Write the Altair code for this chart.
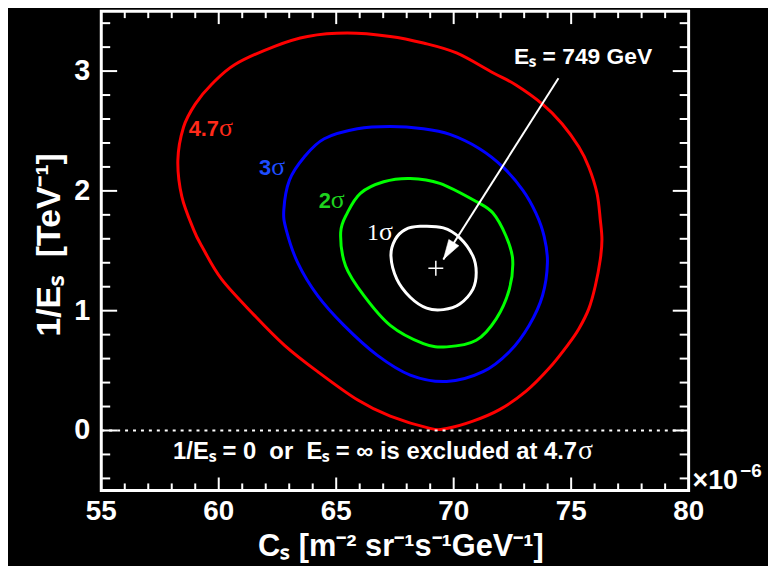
import altair as alt
import pandas as pd

# ---------------- data (data units) ----------------
red_x = [65.47, 67.30, 68.71, 70.12, 71.67, 72.65, 73.78, 74.62, 75.33, 75.75,
         76.10, 76.24, 76.31, 76.24, 76.03, 75.75, 75.33, 74.90, 74.06, 73.07,
         71.95, 70.82, 69.70, 68.99, 67.30, 65.90, 64.21, 62.80, 61.53, 60.12,
         59.28, 58.93, 58.43, 58.26, 58.50, 59.00, 59.70, 60.69, 62.38, 63.78]
red_y = [3.317, 3.289, 3.234, 3.151, 2.986, 2.884, 2.724, 2.559, 2.366, 2.200,
         1.980, 1.759, 1.594, 1.428, 1.208, 1.015, 0.849, 0.725, 0.519, 0.326,
         0.174, 0.078, 0.017, 0.018, 0.119, 0.256, 0.491, 0.711, 0.959, 1.263,
         1.538, 1.677, 1.952, 2.255, 2.531, 2.724, 2.890, 3.055, 3.207, 3.289]

blue_x = [67.30, 68.71, 69.84, 71.10, 72.09, 72.94, 73.50, 73.85, 73.99, 73.78,
          73.21, 72.37, 71.25, 69.70, 68.15, 66.74, 65.33, 64.21, 63.36, 62.87,
          62.77, 63.01, 63.64, 64.49, 65.90]
blue_y = [2.537, 2.518, 2.471, 2.352, 2.200, 2.007, 1.815, 1.621, 1.401, 1.125,
          0.877, 0.657, 0.491, 0.409, 0.463, 0.629, 0.877, 1.125, 1.401, 1.677,
          1.842, 2.090, 2.283, 2.435, 2.518]

green_x = [68.15, 69.41, 70.96, 71.67, 72.23, 72.51, 72.37, 71.81, 70.96, 69.70,
           68.71, 67.30, 66.18, 65.40, 65.19, 65.47, 66.03, 67.02]
green_y = [2.104, 2.063, 1.911, 1.815, 1.621, 1.428, 1.180, 0.932, 0.753, 0.698,
           0.725, 0.877, 1.125, 1.373, 1.652, 1.815, 1.980, 2.076]

white_x = [68.57, 69.56, 70.26, 70.82, 70.96, 70.82, 70.26, 69.56, 68.85, 68.15,
           67.58, 67.33, 67.51, 67.94]
white_y = [1.704, 1.691, 1.608, 1.456, 1.318, 1.180, 1.056, 1.009, 1.021, 1.112,
           1.263, 1.456, 1.594, 1.677]

levels = ["4.7", "3", "2", "1"]
line_colors = ["#ff0000", "#0000ff", "#00ff00", "#ffffff"]
text_colors = ["#ff2a1a", "#1e4dff", "#1ed21e", "#ffffff"]
label_x = [60.01, 62.23, 64.77, 66.82]
label_y = [2.456, 2.131, 1.856, 1.594]

best_fit = {"x": [69.24], "y": [1.354]}
arrow = {"x1": [74.46], "y1": [2.940], "x2": [69.56], "y2": [1.428]}
es_label = {"x": [72.57], "y": [3.058], "t": ["Eₛ = 749 GeV"]}
excl_label = {"x": [75.25], "y": [-0.242]}

x_ticks = [55, 60, 65, 70, 75, 80]
y_ticks = [0, 1, 2, 3]
x_major = [60, 65, 70, 75]
x_minor = [56, 57, 58, 59, 61, 62, 63, 64, 66, 67, 68, 69, 71, 72, 73, 74, 76, 77, 78, 79]
y_major = [0, 1, 2, 3]
y_minor = [-0.4, -0.2, 0.2, 0.4, 0.6, 0.8, 1.2, 1.4, 1.6, 1.8, 2.2, 2.4, 2.6, 2.8,
           3.2, 3.4]

x_title = "Cₛ [m⁻² sr⁻¹s⁻¹GeV⁻¹]"
y_title = "1/Eₛ\u00a0 [TeV⁻¹]"

# ---------------- styling ----------------
W, H = 592, 483
PAD = {"left": 94, "top": 1, "right": 80, "bottom": 74}
FONT = "Liberation Sans"
SERIF = "Liberation Serif"
XDOM = [55, 80]
YDOM = [-0.5, 3.5]


def X(field):
    return alt.X(field, type="quantitative",
                 scale=alt.Scale(domain=XDOM, nice=False, zero=False), axis=None)


def Y(field):
    return alt.Y(field, type="quantitative",
                 scale=alt.Scale(domain=YDOM, nice=False, zero=False), axis=None)


# black backdrop over the whole canvas
backdrop = alt.Chart(pd.DataFrame({"k": [0]})).mark_rect(color="black").encode(
    x=alt.value(-PAD["left"]), x2=alt.value(W + PAD["right"]),
    y=alt.value(-PAD["top"]), y2=alt.value(H + PAD["bottom"]))

rows = []
for lev, xs, ys in zip(levels, [red_x, blue_x, green_x, white_x],
                       [red_y, blue_y, green_y, white_y]):
    for i, (a, b) in enumerate(zip(xs, ys)):
        rows.append({"x": a, "y": b, "level": lev, "i": i})
cdf = pd.DataFrame(rows)

contours = alt.Chart(cdf).mark_line(interpolate="cardinal-closed", strokeWidth=3).encode(
    x=X("x"), y=Y("y"),
    color=alt.Color("level:N", scale=alt.Scale(domain=levels, range=line_colors), legend=None),
    detail="level:N", order="i:Q")

zero_line = alt.Chart(pd.DataFrame({"x": [55], "x2": [80], "y": [0]})).mark_rule(
    color="white", strokeWidth=2, strokeDash=[3, 5]).encode(x=X("x"), x2="x2", y=Y("y"))

frame = alt.Chart(pd.DataFrame({"x": [55], "x2": [80], "y": [-0.5], "y2": [3.5]})).mark_rect(
    filled=False, stroke="white", strokeWidth=3).encode(x=X("x"), x2="x2", y=Y("y"), y2="y2")

tick_layers = []
for vals, length in [(x_minor, 7), (x_major, 13)]:
    d = pd.DataFrame({"v": vals})
    tick_layers.append(alt.Chart(d).mark_rule(color="white", strokeWidth=2).encode(
        x=X("v"), y=alt.value(H), y2=alt.value(H - length)))
    tick_layers.append(alt.Chart(d).mark_rule(color="white", strokeWidth=2).encode(
        x=X("v"), y=alt.value(0), y2=alt.value(length)))
for vals, length in [(y_minor, 9), (y_major, 16)]:
    d = pd.DataFrame({"v": vals})
    tick_layers.append(alt.Chart(d).mark_rule(color="white", strokeWidth=2).encode(
        y=Y("v"), x=alt.value(0), x2=alt.value(length)))
    tick_layers.append(alt.Chart(d).mark_rule(color="white", strokeWidth=2).encode(
        y=Y("v"), x=alt.value(W), x2=alt.value(W - length)))

# tick labels
xlab = alt.Chart(pd.DataFrame({"v": x_ticks, "y": [YDOM[0]] * len(x_ticks)})).mark_text(
    align="center", baseline="top", dy=8, font=FONT, fontSize=28, fontWeight="bold",
    color="white").encode(x=X("v"), y=Y("y"), text=alt.Text("v:Q", format="d"))
ylab = alt.Chart(pd.DataFrame({"v": y_ticks, "x": [XDOM[0]] * len(y_ticks)})).mark_text(
    align="right", baseline="middle", dx=-11, font=FONT, fontSize=29, fontWeight="bold",
    color="white").encode(x=X("x"), y=Y("v"), text=alt.Text("v:Q", format="d"))

# axis titles
xtitle = alt.Chart(pd.DataFrame({"t": [x_title]})).mark_text(
    align="center", baseline="alphabetic", font=FONT, fontSize=31, fontWeight="bold",
    color="white").encode(x=alt.value(W / 2 + 6), y=alt.value(H + 66), text="t:N")
ytitle = alt.Chart(pd.DataFrame({"t": [y_title]})).mark_text(
    align="center", baseline="alphabetic", angle=270, font=FONT, fontSize=34,
    fontWeight="bold", color="white").encode(x=alt.value(-42), y=alt.value(H / 2 - 6),
                                             text="t:N")

# sigma labels: number (sans bold, right-aligned) + sigma (serif)
lab_layers = []
for lev, col, lx, ly in zip(levels, text_colors, label_x, label_y):
    d = pd.DataFrame({"x": [lx], "y": [ly], "t": [lev]})
    if lev == "1":
        num = alt.Chart(d).mark_text(align="right", baseline="alphabetic", font=SERIF,
                                     fontSize=24, color=col)
    else:
        num = alt.Chart(d).mark_text(align="right", baseline="alphabetic", font=FONT,
                                     fontSize=22, fontWeight="bold", color=col)
    lab_layers.append(num.encode(x=X("x"), y=Y("y"), text="t:N"))
    lab_layers.append(alt.Chart(d).mark_text(text="σ", align="left", baseline="alphabetic",
                                             font=SERIF, fontSize=26, color=col)
                      .encode(x=X("x"), y=Y("y")))

arrow_line = alt.Chart(pd.DataFrame(arrow)).mark_rule(color="white", strokeWidth=2).encode(
    x=X("x1"), y=Y("y1"), x2="x2", y2="y2")
arrow_head = alt.Chart(pd.DataFrame({"x": arrow["x2"], "y": arrow["y2"]})).mark_point(
    shape="M0,0L0.6,2L-0.6,2Z", size=400, angle=212, filled=True, fill="white",
    stroke="white", strokeWidth=0.5, opacity=1).encode(x=X("x"), y=Y("y"))

cross = alt.Chart(pd.DataFrame(best_fit)).mark_point(
    shape="M-1,0L1,0M0,-1L0,1", size=225, filled=False, stroke="white",
    strokeWidth=1.5, opacity=1).encode(x=X("x"), y=Y("y"))

es_text = alt.Chart(pd.DataFrame(es_label)).mark_text(
    align="left", baseline="alphabetic", font=FONT, fontSize=23, fontWeight="bold",
    color="white").encode(x=X("x"), y=Y("y"), text="t:N")

excl_df = pd.DataFrame(excl_label)
excl_text = alt.Chart(excl_df).mark_text(
    text="1/Eₛ = 0\u00a0 or\u00a0 Eₛ = ∞ is excluded at 4.7", align="right",
    baseline="alphabetic", font=FONT, fontSize=24, fontWeight="bold",
    color="white").encode(x=X("x"), y=Y("y"))
excl_sigma = alt.Chart(excl_df).mark_text(
    text="σ", align="left", baseline="alphabetic", dx=1, font=SERIF, fontSize=28,
    color="white").encode(x=X("x"), y=Y("y"))

corner = pd.DataFrame({"x": [80], "y": [-0.5]})
exp_base = alt.Chart(corner).mark_text(
    text="×10", align="left", baseline="alphabetic", dx=4, dy=-1, font=FONT,
    fontSize=27, fontWeight="bold", color="white").encode(x=X("x"), y=Y("y"))
exp_sup = alt.Chart(corner).mark_text(
    text="−6", align="left", baseline="alphabetic", dx=52, dy=-13, font=FONT,
    fontSize=19, fontWeight="bold", color="white").encode(x=X("x"), y=Y("y"))

chart = alt.layer(
    backdrop, contours, zero_line, frame, *tick_layers, xlab, ylab, xtitle, ytitle,
    *lab_layers, arrow_line, arrow_head, cross, es_text, excl_text, excl_sigma,
    exp_base, exp_sup
).properties(
    width=W, height=H, background="black", padding=PAD,
    autosize=alt.AutoSizeParams(type="none"),
).configure_view(stroke=None)

chart.save("out.html", embed_options={"renderer": "svg", "actions": False})
